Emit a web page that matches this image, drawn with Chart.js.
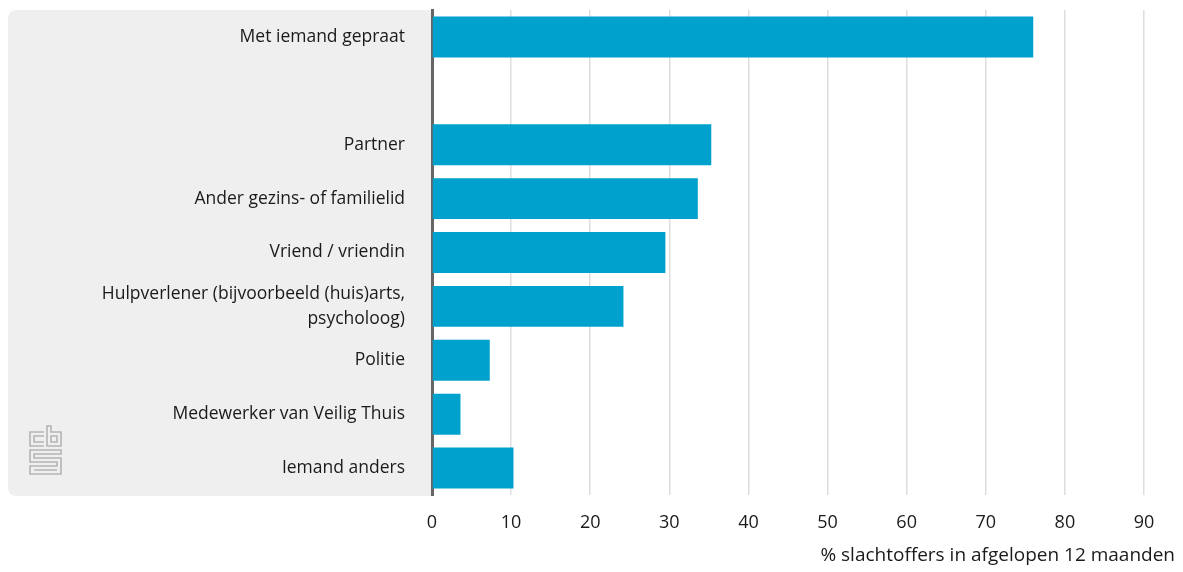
<!DOCTYPE html>
<html>
<head>
<meta charset="utf-8">
<script src="https://cdn.jsdelivr.net/npm/chart.js@4/dist/chart.umd.min.js"></script>
<style>
html,body{margin:0;padding:0;background:#fff;}
canvas{display:block;}
</style>
</head>
<body>
<canvas id="c" width="1183" height="572"></canvas>
<script>
const categories = [
  "Met iemand gepraat",
  "",
  "Partner",
  "Ander gezins- of familielid",
  "Vriend / vriendin",
  ["Hulpverlener (bijvoorbeeld (huis)arts,", "psycholoog)"],
  "Politie",
  "Medewerker van Veilig Thuis",
  "Iemand anders"
];
const values = [76.0, null, 35.3, 33.6, 29.5, 24.2, 7.3, 3.6, 10.3];
const xTicks = [0, 10, 20, 30, 40, 50, 60, 70, 80, 90];
const xTitle = "% slachtoffers in afgelopen 12 maanden";

const FONT = "'Open Sans', 'Noto Sans', sans-serif";

const bgPanel = {
  id: 'bgPanel',
  beforeDraw(chart) {
    const {ctx, chartArea} = chart;
    ctx.save();
    ctx.fillStyle = '#efefef';
    const x0 = 8, y0 = chartArea.top, x1 = chartArea.left, y1 = chartArea.bottom + 1, r = 9;
    ctx.beginPath();
    ctx.moveTo(x1, y0);
    ctx.lineTo(x0 + r, y0);
    ctx.quadraticCurveTo(x0, y0, x0, y0 + r);
    ctx.lineTo(x0, y1 - r);
    ctx.quadraticCurveTo(x0, y1, x0 + r, y1);
    ctx.lineTo(x1, y1);
    ctx.closePath();
    ctx.fill();
    // CBS logo (decoration)
    ctx.strokeStyle = '#b5b5b5';
    ctx.lineWidth = 1.6;
    const lx = 30, ly = 426;
    ctx.beginPath();
    ctx.moveTo(lx + 14, ly + 6); ctx.lineTo(lx, ly + 6); ctx.lineTo(lx, ly + 20); ctx.lineTo(lx + 14, ly + 20);
    ctx.moveTo(lx + 14, ly + 10); ctx.lineTo(lx + 4, ly + 10); ctx.lineTo(lx + 4, ly + 16); ctx.lineTo(lx + 14, ly + 16);
    ctx.moveTo(lx + 17, ly); ctx.lineTo(lx + 17, ly + 20); ctx.lineTo(lx + 31, ly + 20); ctx.lineTo(lx + 31, ly + 6); ctx.lineTo(lx + 21, ly + 6); ctx.lineTo(lx + 21, ly);
    ctx.closePath();
    ctx.rect(lx + 21, ly + 10, 6, 6);
    ctx.moveTo(lx + 31, ly + 24); ctx.lineTo(lx, ly + 24); ctx.lineTo(lx, ly + 36); ctx.lineTo(lx + 27, ly + 36); ctx.lineTo(lx + 27, ly + 40); ctx.lineTo(lx, ly + 40); ctx.lineTo(lx, ly + 48); ctx.lineTo(lx + 31, ly + 48); ctx.lineTo(lx + 31, ly + 32); ctx.lineTo(lx + 4, ly + 32); ctx.lineTo(lx + 4, ly + 28); ctx.lineTo(lx + 31, ly + 28);
    ctx.closePath();
    ctx.moveTo(lx + 4, ly + 44); ctx.lineTo(lx + 27, ly + 44);
    ctx.stroke();
    ctx.restore();
  },
  afterDraw(chart) {
    const {ctx} = chart;
    ctx.save();
    ctx.font = "19px " + FONT;
    ctx.fillStyle = '#1a1a1a';
    ctx.textAlign = 'right';
    ctx.textBaseline = 'middle';
    ctx.fillText(xTitle, 1175, 556);
    ctx.restore();
  }
};

new Chart(document.getElementById('c'), {
  type: 'bar',
  data: {
    labels: categories,
    datasets: [{
      data: values,
      backgroundColor: '#00a1cd',
      borderWidth: 0,
      barPercentage: 0.76,
      categoryPercentage: 1.0
    }]
  },
  options: {
    indexAxis: 'y',
    responsive: false,
    animation: false,
    layout: { padding: { top: 10, right: 39, bottom: 0, left: 0 } },
    plugins: { legend: { display: false }, tooltip: { enabled: false } },
    scales: {
      x: {
        min: 0, max: 90,
        afterBuildTicks(scale) { scale.ticks = xTicks.map(v => ({value: v})); },
        afterFit(scale) { scale.height = 77; scale.paddingLeft = 0; scale.paddingRight = 0; },
        grid: { color: '#dedede', lineWidth: 1.5, drawTicks: false },
        border: { display: false },
        ticks: { padding: 17, color: '#1a1a1a', font: { size: 18, family: FONT } }
      },
      y: {
        afterFit(scale) { scale.width = 432; scale.paddingTop = 0; scale.paddingBottom = 0; },
        grid: { display: false },
        border: { display: true, color: '#666', width: 3 },
        ticks: { padding: 19, color: '#1a1a1a', font: { size: 17.5, family: FONT, lineHeight: 1.4 }, autoSkip: false }
      }
    }
  },
  plugins: [bgPanel]
});
</script>
</body>
</html>
